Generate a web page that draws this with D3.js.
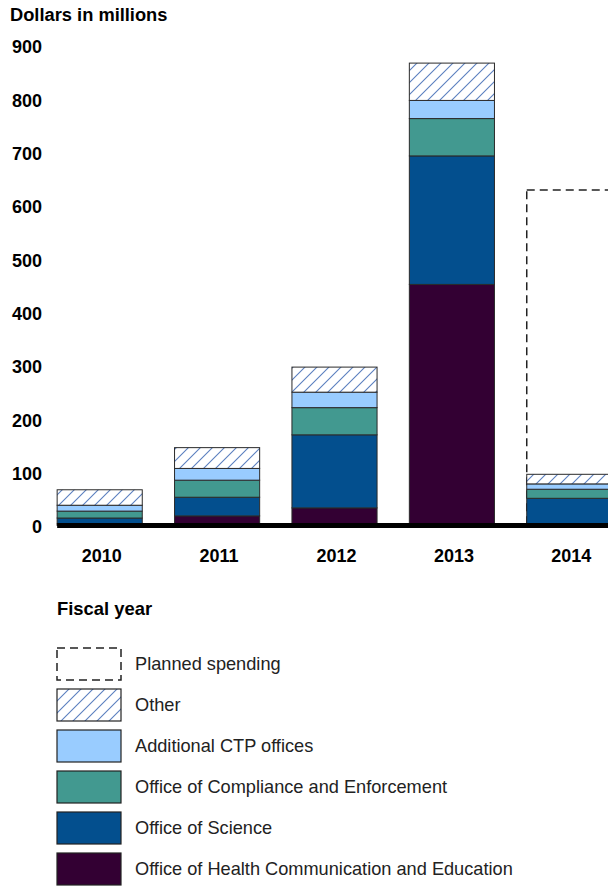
<!DOCTYPE html>
<html>
<head>
<meta charset="utf-8">
<script src="https://cdn.jsdelivr.net/npm/d3@7"></script>
<style>
  body { margin: 0; background: #fff; }
  svg { display: block; font-family: "Liberation Sans", Arial, sans-serif; }
</style>
</head>
<body>
<div id="chart"></div>
<script>
const years = ["2010", "2011", "2012", "2013", "2014"];
const healthComm = [3, 18, 33, 452, 3];
const science = [11, 35, 137, 241, 48];
const compliance = [13, 32, 51, 70, 17];
const additionalCtp = [11, 22, 29, 34, 10];
const other = [29, 39, 47, 70, 18];
const planned = [null, null, null, null, 629];
const yTicks = [0, 100, 200, 300, 400, 500, 600, 700, 800, 900];

const seriesNames = ["Office of Health Communication and Education", "Office of Science",
  "Office of Compliance and Enforcement", "Additional CTP offices", "Other"];
const seriesColors = ["#330033", "#034f8e", "#429990", "#99ccff", "url(#hatch)"];

const width = 608, height = 886;

const svg = d3.select("#chart")
  .append("svg")
  .attr("width", width)
  .attr("height", height);

const defs = svg.append("defs");
const pat = defs.append("pattern")
  .attr("id", "hatch")
  .attr("patternUnits", "userSpaceOnUse")
  .attr("width", 12)
  .attr("height", 12);
pat.append("rect").attr("width", 12).attr("height", 12).attr("fill", "#fff");
pat.append("path")
  .attr("d", "M0,12 L12,0 M-3,3 L3,-3 M9,15 L15,9")
  .attr("stroke", "#5b7fbf")
  .attr("stroke-width", 1.1);

const table = years.map((y, i) => ({
  year: y,
  s0: healthComm[i], s1: science[i], s2: compliance[i], s3: additionalCtp[i], s4: other[i],
  planned: planned[i]
}));

const stack = d3.stack().keys(["s0", "s1", "s2", "s3", "s4"]);
const stacked = stack(table);

const x = d3.scaleBand()
  .domain(years)
  .range([41, 628])
  .paddingInner(0.275)
  .paddingOuter(0.1375);

const y = d3.scaleLinear()
  .domain([0, 900])
  .range([525.5, 45.5]);

// y axis labels only
const yAxis = svg.append("g")
  .attr("transform", "translate(42,0)")
  .call(d3.axisLeft(y).tickValues(yTicks).tickSize(0).tickPadding(0).tickFormat(d3.format("d")));
yAxis.select(".domain").remove();
yAxis.selectAll("text")
  .attr("font-size", "18px")
  .attr("font-weight", "bold")
  .attr("font-family", "Liberation Sans, Arial, sans-serif")
  .attr("fill", "#000")
  .attr("dy", "0.4em");

svg.append("text")
  .text("Dollars in millions")
  .attr("x", 10)
  .attr("y", 21)
  .attr("font-size", "18.3px")
  .attr("font-weight", "bold")
  .attr("fill", "#000");

// planned spending (dashed)
svg.append("g")
  .selectAll("rect")
  .data(table.filter(d => d.planned != null))
  .join("rect")
    .attr("x", d => x(d.year))
    .attr("y", d => y(d.planned))
    .attr("width", x.bandwidth())
    .attr("height", d => y(0) - y(d.planned))
    .attr("fill", "#fff")
    .attr("stroke", "#222")
    .attr("stroke-width", 1.5)
    .attr("stroke-dasharray", "8,5");

// stacked bars
svg.append("g")
  .selectAll("g")
  .data(stacked)
  .join("g")
    .attr("fill", (d, i) => seriesColors[i])
  .selectAll("rect")
  .data(d => d)
  .join("rect")
    .attr("x", d => x(d.data.year))
    .attr("y", d => y(d[1]))
    .attr("width", x.bandwidth())
    .attr("height", d => y(d[0]) - y(d[1]))
    .attr("stroke", "#2a2a2a")
    .attr("stroke-width", 1);

// baseline
svg.append("line")
  .attr("x1", x(years[0]))
  .attr("x2", width)
  .attr("y1", y(0))
  .attr("y2", y(0))
  .attr("stroke", "#000")
  .attr("stroke-width", 5);

// x labels
svg.append("g")
  .selectAll("text")
  .data(years)
  .join("text")
    .text(d => d)
    .attr("x", d => x(d) + x.bandwidth() / 2 + 2)
    .attr("y", 562)
    .attr("text-anchor", "middle")
    .attr("font-size", "18px")
    .attr("font-weight", "bold")
    .attr("fill", "#000");

svg.append("text")
  .text("Fiscal year")
  .attr("x", 57)
  .attr("y", 615)
  .attr("font-size", "18.4px")
  .attr("font-weight", "bold")
  .attr("fill", "#000");

// legend
const legendItems = [
  { name: "Planned spending", fill: "#fff", dash: "8,5" },
  { name: seriesNames[4], fill: seriesColors[4] },
  { name: seriesNames[3], fill: seriesColors[3] },
  { name: seriesNames[2], fill: seriesColors[2] },
  { name: seriesNames[1], fill: seriesColors[1] },
  { name: seriesNames[0], fill: seriesColors[0] }
];

const legend = svg.append("g")
  .selectAll("g")
  .data(legendItems)
  .join("g")
    .attr("transform", (d, i) => `translate(57, ${648 + i * 41})`);

legend.append("rect")
  .attr("width", 64)
  .attr("height", 32)
  .attr("fill", d => d.fill)
  .attr("stroke", "#222")
  .attr("stroke-width", d => d.dash ? 1.5 : 1.2)
  .attr("stroke-dasharray", d => d.dash || null);

legend.append("text")
  .text(d => d.name)
  .attr("x", 78)
  .attr("y", 16)
  .attr("dy", "0.35em")
  .attr("font-size", "18.2px")
  .attr("fill", "#222");
</script>
</body>
</html>
